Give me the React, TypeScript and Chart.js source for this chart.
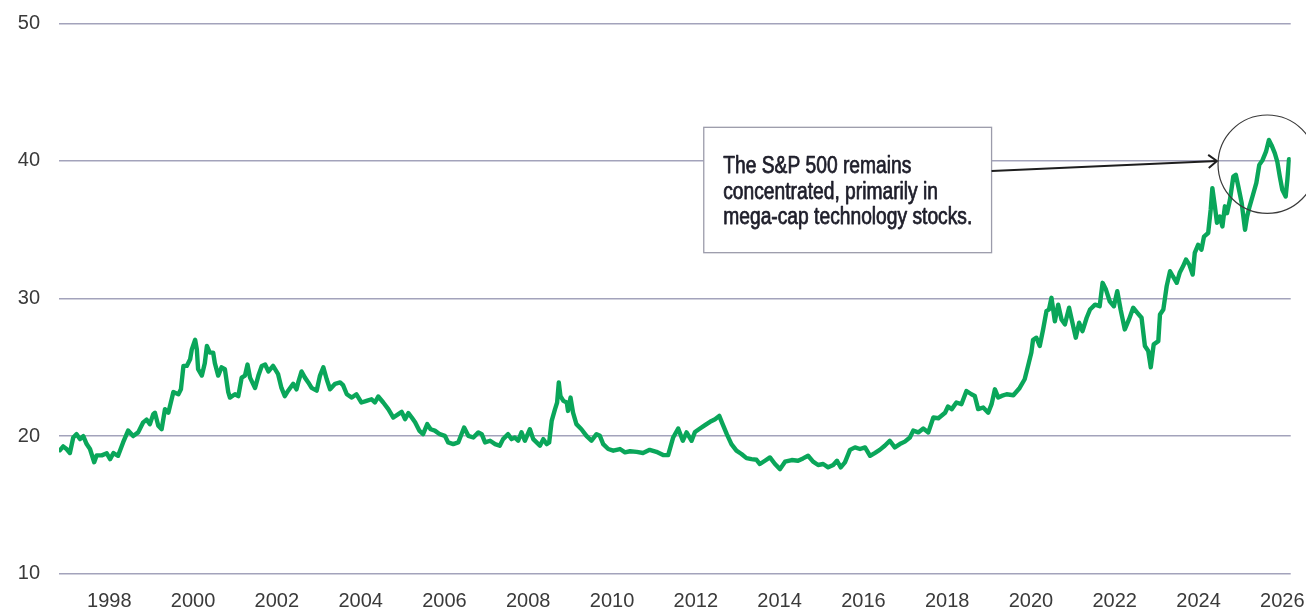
import React, { useEffect, useRef } from "react";
import { Chart, registerables } from "chart.js";

Chart.register(...registerables);

// Forward P/E of the S&P 500
const years = [
  1996.82, 1996.9, 1996.98, 1997.06, 1997.14, 1997.22, 1997.3, 1997.38, 1997.46, 1997.54,
  1997.64, 1997.7, 1997.82, 1997.94, 1998.02, 1998.1, 1998.21, 1998.33, 1998.45, 1998.57,
  1998.69, 1998.81, 1998.89, 1998.97, 1999.05, 1999.09, 1999.17, 1999.25, 1999.33, 1999.41,
  1999.53, 1999.65, 1999.71, 1999.77, 1999.85, 1999.93, 1999.97, 2000.05, 2000.09, 2000.12,
  2000.21, 2000.28, 2000.33, 2000.4, 2000.48, 2000.52, 2000.6, 2000.68, 2000.76, 2000.84,
  2000.88, 2001.0, 2001.08, 2001.16, 2001.24, 2001.3, 2001.36, 2001.48, 2001.56, 2001.64,
  2001.72, 2001.8, 2001.91, 2002.03, 2002.11, 2002.19, 2002.27, 2002.39, 2002.47, 2002.51,
  2002.59, 2002.67, 2002.75, 2002.83, 2002.95, 2003.03, 2003.11, 2003.19, 2003.27, 2003.39,
  2003.51, 2003.58, 2003.67, 2003.79, 2003.9, 2004.02, 2004.14, 2004.26, 2004.34, 2004.42,
  2004.54, 2004.66, 2004.78, 2004.9, 2004.98, 2005.06, 2005.14, 2005.22, 2005.3, 2005.4,
  2005.49, 2005.59, 2005.67, 2005.77, 2005.89, 2006.01, 2006.09, 2006.21, 2006.33, 2006.47,
  2006.57, 2006.69, 2006.81, 2006.89, 2006.97, 2007.09, 2007.21, 2007.32, 2007.4, 2007.52,
  2007.6, 2007.68, 2007.76, 2007.84, 2007.92, 2008.04, 2008.12, 2008.2, 2008.28, 2008.36,
  2008.44, 2008.5, 2008.56, 2008.64, 2008.69, 2008.73, 2008.77, 2008.84, 2008.92, 2008.95,
  2009.01, 2009.07, 2009.15, 2009.27, 2009.39, 2009.51, 2009.63, 2009.71, 2009.79, 2009.91,
  2010.03, 2010.19, 2010.31, 2010.43, 2010.59, 2010.74, 2010.9, 2011.06, 2011.22, 2011.34,
  2011.46, 2011.58, 2011.69, 2011.78, 2011.9, 2011.98, 2012.1, 2012.22, 2012.34, 2012.46,
  2012.56, 2012.64, 2012.74, 2012.85, 2012.97, 2013.09, 2013.21, 2013.33, 2013.45, 2013.53,
  2013.65, 2013.77, 2013.89, 2014.01, 2014.13, 2014.29, 2014.44, 2014.56, 2014.68, 2014.8,
  2014.92, 2015.04, 2015.16, 2015.28, 2015.37, 2015.46, 2015.56, 2015.68, 2015.8, 2015.92,
  2016.04, 2016.16, 2016.27, 2016.39, 2016.51, 2016.63, 2016.75, 2016.87, 2016.99, 2017.11,
  2017.19, 2017.31, 2017.43, 2017.55, 2017.67, 2017.79, 2017.95, 2018.02, 2018.11, 2018.22,
  2018.34, 2018.46, 2018.58, 2018.66, 2018.74, 2018.86, 2018.98, 2019.06, 2019.14, 2019.22,
  2019.3, 2019.42, 2019.58, 2019.73, 2019.85, 2019.93, 2020.01, 2020.05, 2020.13, 2020.21,
  2020.29, 2020.37, 2020.43, 2020.49, 2020.57, 2020.65, 2020.73, 2020.81, 2020.91, 2020.99,
  2021.07, 2021.15, 2021.23, 2021.33, 2021.41, 2021.53, 2021.64, 2021.71, 2021.79, 2021.88,
  2021.98, 2022.06, 2022.14, 2022.24, 2022.34, 2022.44, 2022.54, 2022.64, 2022.72, 2022.8,
  2022.86, 2022.93, 2023.04, 2023.08, 2023.16, 2023.24, 2023.32, 2023.39, 2023.48, 2023.55,
  2023.63, 2023.7, 2023.78, 2023.86, 2023.91, 2023.99, 2024.07, 2024.13, 2024.23, 2024.29,
  2024.33, 2024.39, 2024.44, 2024.51, 2024.57, 2024.63, 2024.68, 2024.75, 2024.83, 2024.89,
  2024.95, 2025.03, 2025.11, 2025.16, 2025.22, 2025.3, 2025.38, 2025.45, 2025.53, 2025.61,
  2025.68, 2025.74, 2025.82, 2025.88, 2025.94, 2026.0, 2026.08, 2026.12, 2026.16,
];

const peRatios = [
  18.97, 19.25, 19.06, 18.77, 19.9, 20.14, 19.78, 20.0, 19.42, 19.06,
  18.1, 18.6, 18.6, 18.75, 18.33, 18.77, 18.57, 19.54, 20.4, 20.0,
  20.27, 21.0, 21.2, 20.87, 21.6, 21.7, 20.75, 20.5, 21.96, 21.7,
  23.2, 23.04, 23.4, 25.1, 25.1, 25.58, 26.3, 27.0, 26.3, 24.86,
  24.4, 25.3, 26.55, 26.07, 26.07, 25.3, 24.4, 25.0, 24.86, 23.2,
  22.8, 23.04, 22.9, 24.25, 24.4, 25.2, 24.25, 23.5, 24.4, 25.1,
  25.2, 24.7, 25.1, 24.5, 23.5, 22.9, 23.3, 23.8, 23.4, 23.9,
  24.7, 24.25, 23.9, 23.5, 23.3, 24.4, 25.0, 24.13, 23.4, 23.8,
  23.9, 23.7, 23.04, 22.8, 23.04, 22.44, 22.56, 22.68, 22.44, 22.88,
  22.44, 21.96, 21.35, 21.6, 21.76, 21.23, 21.67, 21.35, 21.0, 20.4,
  20.14, 20.87, 20.5, 20.4, 20.14, 20.02, 19.54, 19.42, 19.54, 20.63,
  20.02, 19.9, 20.27, 20.14, 19.54, 19.66, 19.42, 19.3, 19.78, 20.14,
  19.78, 19.9, 19.66, 20.27, 19.66, 20.5, 19.78, 19.54, 19.3, 19.78,
  19.42, 19.54, 21.1, 21.96, 22.44, 23.9, 22.9, 22.56, 22.44, 21.83,
  22.8, 21.7, 20.87, 20.5, 20.02, 19.66, 20.14, 20.02, 19.42, 19.06,
  18.94, 19.06, 18.82, 18.9, 18.85, 18.77, 19.0, 18.86, 18.62, 18.62,
  19.9, 20.55, 19.66, 20.27, 19.66, 20.3, 20.55, 20.8, 21.04, 21.23,
  21.47, 20.87, 20.14, 19.42, 18.94, 18.7, 18.4, 18.33, 18.28, 17.97,
  18.21, 18.45, 17.97, 17.6, 18.14, 18.26, 18.21, 18.38, 18.57, 18.14,
  17.9, 17.97, 17.73, 17.9, 18.21, 17.73, 18.09, 19.0, 19.18, 19.06,
  19.18, 18.57, 18.77, 19.0, 19.3, 19.66, 19.18, 19.42, 19.6, 19.9,
  20.4, 20.27, 20.55, 20.27, 21.35, 21.3, 21.7, 22.15, 21.96, 22.44,
  22.32, 23.28, 23.04, 22.92, 21.96, 22.08, 21.7, 22.32, 23.4, 22.8,
  22.92, 23.04, 22.97, 23.5, 24.13, 25.1, 26.07, 27.0, 27.15, 26.55,
  27.75, 29.08, 29.2, 30.05, 28.35, 29.55, 28.48, 28.12, 29.33, 28.24,
  27.15, 28.24, 27.63, 28.6, 29.2, 29.55, 29.44, 31.14, 30.65, 29.8,
  29.44, 30.53, 29.2, 27.75, 28.48, 29.33, 28.96, 28.6, 26.55, 26.18,
  25.0, 26.67, 26.9, 28.84, 29.2, 30.9, 31.98, 31.6, 31.14, 31.87,
  32.34, 32.83, 32.46, 31.74, 33.31, 33.9, 33.55, 34.5, 34.76, 36.45,
  38.02, 36.7, 35.5, 35.96, 35.24, 36.7, 36.2, 37.17, 38.86, 38.99,
  38.14, 36.94, 35.0, 35.96, 36.7, 37.54, 38.4, 39.71, 40.07, 40.67,
  41.52, 41.16, 40.56, 39.95, 38.86, 37.9, 37.41, 38.62, 40.12,
];

const xTickYears = [1998, 2000, 2002, 2004, 2006, 2008, 2010, 2012, 2014, 2016, 2018, 2020, 2022, 2024, 2026];
const yTickValues = [10, 20, 30, 40, 50];

const noteLines = [
  "The S&P 500 remains",
  "concentrated, primarily in",
  "mega-cap technology stocks.",
];

// annotation anchors in data coordinates
const noteBoxYears = [2012.19, 2019.06];
const noteBoxValues = [42.44, 33.33];
const arrowFrom = { x: 2019.06, y: 39.27 };
const arrowTo = { x: 2024.44, y: 39.99 };
const circleCenter = { x: 2025.64, y: 39.76 };

const CANVAS_W = 1340;
const CANVAS_H = 610;

const notePlugin = {
  id: "notePlugin",
  afterDatasetsDraw(chart: any) {
    const { ctx } = chart;
    const xs = chart.scales.x;
    const ys = chart.scales.y;
    ctx.save();

    // box
    const bx0 = xs.getPixelForValue(noteBoxYears[0]);
    const bx1 = xs.getPixelForValue(noteBoxYears[1]);
    const by0 = ys.getPixelForValue(noteBoxValues[0]);
    const by1 = ys.getPixelForValue(noteBoxValues[1]);
    ctx.fillStyle = "#ffffff";
    ctx.fillRect(bx0, by0, bx1 - bx0, by1 - by0);
    ctx.strokeStyle = "#9c9cab";
    ctx.lineWidth = 1.3;
    ctx.strokeRect(bx0, by0, bx1 - bx0, by1 - by0);

    // text: a tall sans face, narrowed so the longest line spans the same width
    const fontSize = 23;
    ctx.font = `${fontSize}px 'Liberation Sans', Arial, sans-serif`;
    const wLong = ctx.measureText(noteLines[2]).width;
    const sx = 249 / wLong;
    ctx.fillStyle = "#1e1e2a";
    ctx.strokeStyle = "#1e1e2a";
    ctx.lineWidth = 0.75;
    ctx.lineJoin = "round";
    ctx.textAlign = "left";
    ctx.textBaseline = "alphabetic";
    const offsets = [46, 71.5, 97];
    noteLines.forEach((line, i) => {
      ctx.save();
      ctx.translate(bx0 + 19.5, by0 + offsets[i]);
      ctx.scale(sx, 1);
      ctx.fillText(line, 0, 0);
      ctx.strokeText(line, 0, 0);
      ctx.restore();
    });

    // arrow
    const ax0 = xs.getPixelForValue(arrowFrom.x);
    const ay0 = ys.getPixelForValue(arrowFrom.y);
    const ax1 = xs.getPixelForValue(arrowTo.x);
    const ay1 = ys.getPixelForValue(arrowTo.y);
    ctx.strokeStyle = "#1e1e1e";
    ctx.lineWidth = 2;
    ctx.beginPath();
    ctx.moveTo(ax0, ay0);
    ctx.lineTo(ax1, ay1);
    ctx.stroke();
    const ang = Math.atan2(ay1 - ay0, ax1 - ax0);
    const back = 8.5;
    const half = 6.5;
    const bxp = ax1 - back * Math.cos(ang);
    const byp = ay1 - back * Math.sin(ang);
    const px = -Math.sin(ang);
    const py = Math.cos(ang);
    ctx.beginPath();
    ctx.moveTo(bxp + half * px, byp + half * py);
    ctx.lineTo(ax1, ay1);
    ctx.lineTo(bxp - half * px, byp - half * py);
    ctx.stroke();

    // circle
    const cx = xs.getPixelForValue(circleCenter.x);
    const cy = ys.getPixelForValue(circleCenter.y);
    ctx.strokeStyle = "#3a3a3a";
    ctx.lineWidth = 1.2;
    ctx.beginPath();
    ctx.arc(cx, cy, 49.2, 0, Math.PI * 2);
    ctx.stroke();

    ctx.restore();
  },
};

export default function App() {
  const canvasRef = useRef<HTMLCanvasElement | null>(null);

  useEffect(() => {
    const canvas = canvasRef.current;
    if (!canvas) return;
    const tickFont = { family: "'Liberation Sans', Arial, sans-serif", size: 20 };
    const chart = new Chart(canvas, {
      type: "line",
      data: {
        datasets: [
          {
            label: "S&P 500 forward P/E",
            data: years.map((yr, i) => ({ x: yr, y: peRatios[i] })),
            borderColor: "#0aa65a",
            borderWidth: 4.4,
            pointRadius: 0,
            tension: 0,
            fill: false,
            borderJoinStyle: "round",
            borderCapStyle: "round",
          },
        ],
      },
      options: {
        responsive: false,
        animation: false,
        devicePixelRatio: 1,
        layout: { padding: { top: 23.3, left: 0, right: CANVAS_W - 1290.7, bottom: 0 } },
        plugins: { legend: { display: false }, tooltip: { enabled: false } },
        scales: {
          x: {
            type: "linear",
            min: 1996.8,
            max: 2026.2,
            afterFit: (s: any) => {
              s.height = 36.3;
            },
            afterBuildTicks: (s: any) => {
              s.ticks = xTickYears.map((v) => ({ value: v }));
            },
            ticks: {
              autoSkip: false,
              maxRotation: 0,
              padding: 16,
              color: "#3a3a3a",
              font: tickFont,
              callback: (v: any) => String(v),
            },
            grid: { display: false, drawTicks: false },
            border: { display: false },
          },
          y: {
            min: 10,
            max: 50,
            afterFit: (s: any) => {
              s.width = 59;
              s.paddingTop = 0;
              s.paddingBottom = 0;
            },
            afterBuildTicks: (s: any) => {
              s.ticks = yTickValues.map((v) => ({ value: v }));
            },
            ticks: {
              padding: 19,
              color: "#3a3a3a",
              font: tickFont,
              callback: (v: any) => String(v),
            },
            grid: { color: "#a3a3bb", lineWidth: 1.5, drawTicks: false },
            border: { display: false },
          },
        },
      },
      plugins: [notePlugin],
    });
    return () => chart.destroy();
  }, []);

  return (
    <div
      style={{
        position: "fixed",
        left: 0,
        top: 0,
        width: 1306,
        height: 610,
        overflow: "hidden",
        background: "#ffffff",
      }}
    >
      <canvas ref={canvasRef} width={CANVAS_W} height={CANVAS_H} style={{ display: "block" }} />
    </div>
  );
}
